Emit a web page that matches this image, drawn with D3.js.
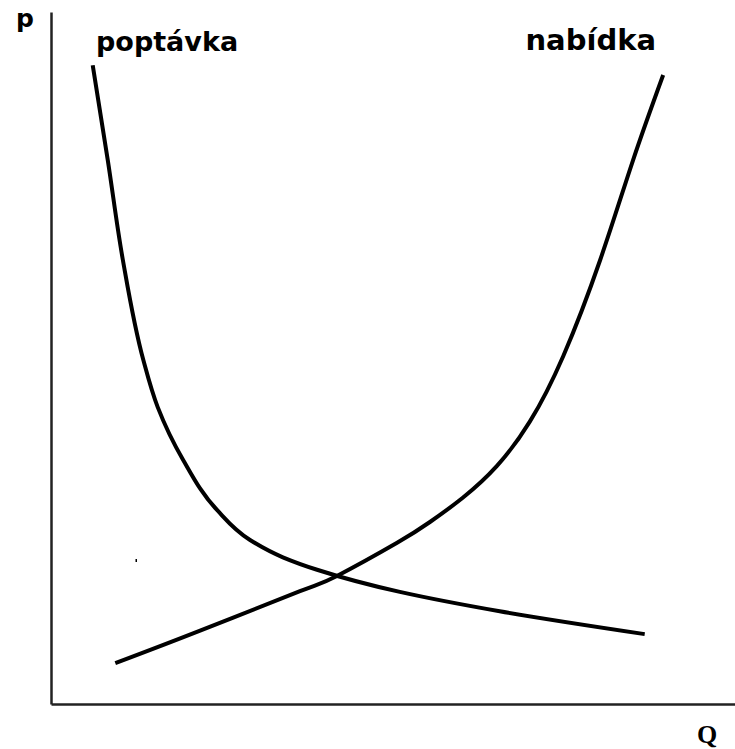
<!DOCTYPE html>
<html>
<head>
<meta charset="utf-8">
<script src="https://cdn.jsdelivr.net/npm/d3@7"></script>
<style>
  body { margin: 0; background: #fff; }
  svg { display: block; }
</style>
</head>
<body>
<div id="chart-area"></div>
<script>
// nabidka a poptavka - jen schema, osy bez cisel
const demandQ = [6.1, 8.3, 10.5, 13.5, 15.6, 19.3, 24.3, 29.1, 33.9, 38.9, 51.0, 65.6, 86.8];
const demandP = [92.3, 78.6, 64.2, 49.7, 42.9, 35.3, 28.0, 23.7, 21.2, 19.4, 16.2, 13.4, 10.1];

const supplyQ = [9.4, 21.8, 36.4, 41.8, 50.6, 55.4, 60.2, 65.2, 70.0, 74.9, 80.3, 85.1, 89.5];
const supplyP = [5.9, 10.6, 16.3, 18.5, 23.3, 26.3, 29.8, 34.4, 40.8, 50.3, 64.2, 78.6, 90.9];

const labels = ["poptávka", "nabídka"];
const axisLabels = ["p", "Q"];

const widthinput = 735;
const heightinput = 749;

var margin = { left: 51, right: 0, top: 12, bottom: 45 };

var svg = d3.select("#chart-area")
	.append("svg")
		.attr("width", widthinput)
		.attr("height", heightinput);

var x = d3.scaleLinear()
	.domain([0, 100])
	.range([margin.left, widthinput - margin.right]);

var y = d3.scaleLinear()
	.domain([0, 100])
	.range([heightinput - margin.bottom, margin.top]);

// osy - jen cary, zadne ticky
svg.append("g")
	.attr("transform", "translate(0," + y(0) + ")")
	.call(d3.axisBottom(x).tickValues([]).tickSizeOuter(0))
	.select(".domain")
		.attr("stroke", "#222")
		.attr("stroke-width", 2.5);

svg.append("g")
	.attr("transform", "translate(" + x(0) + ",0)")
	.call(d3.axisLeft(y).tickValues([]).tickSizeOuter(0))
	.select(".domain")
		.attr("stroke", "#222")
		.attr("stroke-width", 2.5);

// poptavka je strma nahore -> monotoneY, nabidka -> natural
var demandLine = d3.line()
	.x(d => x(d[0]))
	.y(d => y(d[1]))
	.curve(d3.curveMonotoneY);

var supplyLine = d3.line()
	.x(d => x(d[0]))
	.y(d => y(d[1]))
	.curve(d3.curveNatural);

var demand = d3.zip(demandQ, demandP);
var supply = d3.zip(supplyQ, supplyP);

svg.append("path")
	.attr("fill", "none")
	.attr("stroke", "#000")
	.attr("stroke-width", 4)
	.attr("d", demandLine(demand));

svg.append("path")
	.attr("fill", "none")
	.attr("stroke", "#000")
	.attr("stroke-width", 4)
	.attr("d", supplyLine(supply));

// popisky krivek
svg.append("text")
	.attr("x", 96)
	.attr("y", 51)
	.attr("font-family", "DejaVu Sans")
	.attr("font-weight", "bold")
	.attr("font-size", "27px")
	.text(labels[0]);

svg.append("text")
	.attr("x", 656)
	.attr("y", 50)
	.attr("text-anchor", "end")
	.attr("font-family", "DejaVu Sans")
	.attr("font-weight", "bold")
	.attr("font-size", "29px")
	.text(labels[1]);

// popisky os
svg.append("text")
	.attr("x", 16)
	.attr("y", 27)
	.attr("font-family", "DejaVu Sans")
	.attr("font-weight", "bold")
	.attr("font-size", "25px")
	.text(axisLabels[0]);

svg.append("text")
	.attr("x", 697)
	.attr("y", 743)
	.attr("font-family", "Liberation Serif")
	.attr("font-weight", "bold")
	.attr("font-size", "26px")
	.text(axisLabels[1]);

// mala tecka jako v originale
svg.append("rect")
	.attr("x", 135.5)
	.attr("y", 559)
	.attr("width", 1.5)
	.attr("height", 3)
	.attr("fill", "#000");
</script>
</body>
</html>
